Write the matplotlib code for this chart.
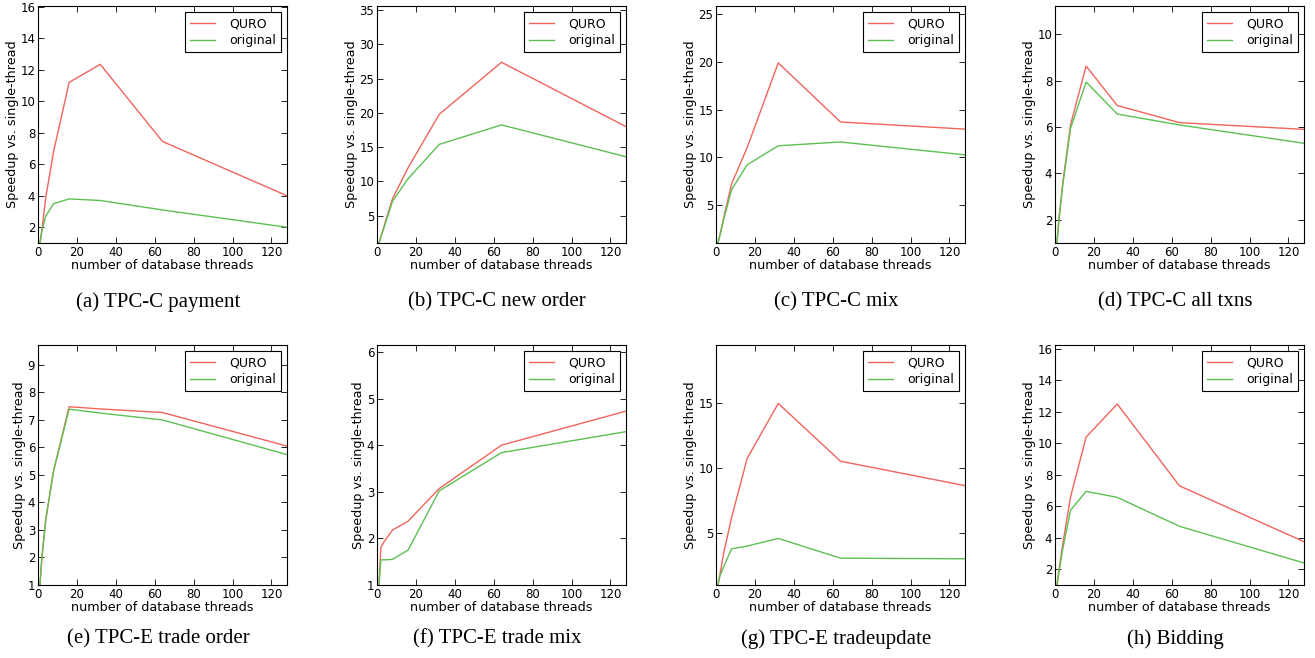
import matplotlib
matplotlib.use("Agg")
import matplotlib.pyplot as plt

# nombre de threads (axe x commun)
threads = [1, 2, 4, 8, 16, 32, 64, 128]

captions = ["(a) TPC-C payment", "(b) TPC-C new order", "(c) TPC-C mix",
            "(d) TPC-C all txns", "(e) TPC-E trade order", "(f) TPC-E trade mix",
            "(g) TPC-E tradeupdate", "(h) Bidding"]

quro_a = [1, 1.8, 3.9, 6.8, 11.2, 12.35, 7.45, 4.0]
orig_a = [1, 1.8, 2.7, 3.5, 3.8, 3.7, 3.1, 2.0]
quro_b = [1, 1.9, 3.8, 7.5, 12.0, 19.8, 27.4, 18.0]
orig_b = [1, 1.9, 3.6, 7.1, 10.4, 15.4, 18.25, 13.6]
quro_c = [1, 1.8, 3.7, 7.2, 11.0, 19.9, 13.7, 12.95]
orig_c = [1, 1.8, 3.5, 6.6, 9.2, 11.2, 11.6, 10.25]
quro_d = [1, 2.0, 3.6, 6.1, 8.63, 6.93, 6.19, 5.9]
orig_d = [1, 2.0, 3.5, 5.95, 7.94, 6.56, 6.09, 5.3]
quro_e = [1, 2.0, 3.38, 5.15, 7.48, 7.4, 7.27, 6.05]
orig_e = [1, 2.0, 3.38, 5.15, 7.39, 7.25, 7.0, 5.74]
quro_f = [1, 1.81, 1.95, 2.18, 2.37, 3.07, 4.0, 4.73]
orig_f = [1, 1.54, 1.54, 1.55, 1.75, 3.02, 3.84, 4.29]
quro_g = [1, 1.8, 3.5, 6.2, 10.75, 15.0, 10.54, 8.66]
orig_g = [1, 1.7, 2.42, 3.79, 4.0, 4.59, 3.07, 3.02]
quro_h = [1, 1.9, 3.6, 6.6, 10.4, 12.5, 7.3, 3.75]
orig_h = [1, 1.8, 3.3, 5.75, 6.95, 6.57, 4.73, 2.4]

quro = [quro_a, quro_b, quro_c, quro_d, quro_e, quro_f, quro_g, quro_h]
orig = [orig_a, orig_b, orig_c, orig_d, orig_e, orig_f, orig_g, orig_h]
ytick_list = [[2, 4, 6, 8, 10, 12, 14, 16], [5, 10, 15, 20, 25, 30, 35],
              [5, 10, 15, 20, 25], [2, 4, 6, 8, 10],
              [1, 2, 3, 4, 5, 6, 7, 8, 9], [1, 2, 3, 4, 5, 6],
              [5, 10, 15], [2, 4, 6, 8, 10, 12, 14, 16]]

W, H = 1315, 658
fig = plt.figure(figsize=(W / 100, H / 100), dpi=100)

lefts = [38, 377, 716, 1055]
rows = [(6, 243), (345, 585)]
cap_y = [302, 639]
red = "#f0645c"
green = "#5cc052"

for i in range(8):
    r, c = divmod(i, 4)
    top, bot = rows[r]
    ax = fig.add_axes([lefts[c] / W, (H - bot) / H, 249 / W, (bot - top) / H])
    ax.plot(threads, quro[i], color=red, lw=1.0, label="QURO")
    ax.plot(threads, orig[i], color=green, lw=1.0, label="original")
    ax.set_xlim(0, 128)
    ax.set_ylim(1, max(quro[i]) * 1.3)
    ax.set_xticks([0, 20, 40, 60, 80, 100, 120])
    ax.set_yticks(ytick_list[i])
    ax.tick_params(direction="in", top=True, right=True, labelsize=8.5,
                   length=4, width=0.6, pad=2)
    for s in ax.spines.values():
        s.set_linewidth(0.8)
    ax.set_xlabel("number of database threads", fontsize=9.2, labelpad=0)
    ax.set_ylabel("Speedup vs. single-thread", fontsize=9.2, labelpad=1)
    leg = ax.legend(loc="upper right", fontsize=9, fancybox=False,
                    edgecolor="black", framealpha=1, handlelength=2.0,
                    handletextpad=1.1, borderaxespad=0.5, borderpad=0.4,
                    labelspacing=0.3)
    leg.get_frame().set_linewidth(0.8)
    xc = (lefts[c] + 120) / W
    fig.text(xc, 1 - cap_y[r] / H, captions[i], ha="center", va="center",
             fontsize=15, family="Liberation Serif")

fig.savefig("out.png", dpi=100)
